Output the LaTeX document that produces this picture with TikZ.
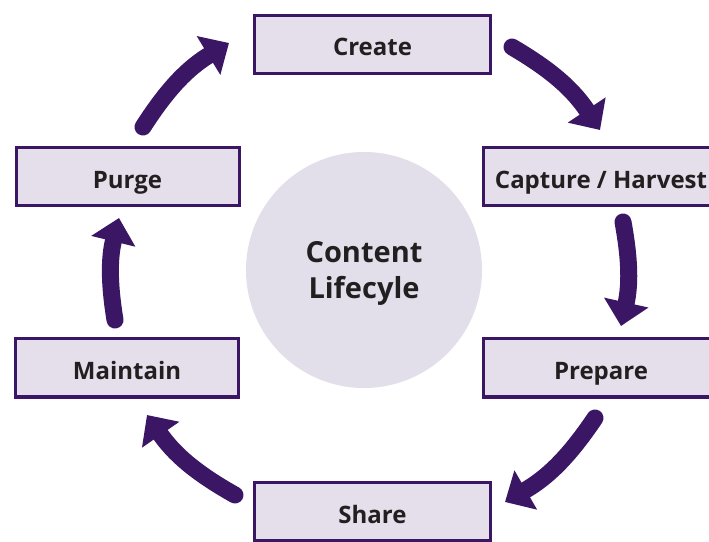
\documentclass[tikz,border=0pt]{standalone}
\usepackage{fontspec}
\setmainfont{Open Sans}
\usetikzlibrary{arrows.meta}
\definecolor{plum}{RGB}{59,22,100}
\definecolor{lilac}{RGB}{228,223,235}
\definecolor{hubfill}{RGB}{226,222,234}
\definecolor{ink}{RGB}{35,31,32}
\tikzset{
  stage/.style={draw=plum, line width=3pt, fill=lilac, text=ink,
    minimum height=58pt, inner sep=0pt, text height=23pt, text depth=0pt,
    font=\fontsize{24}{28}\selectfont\bfseries},
  hubnode/.style={circle, fill=hubfill, minimum size=236pt, inner sep=0pt},
  hubtext/.style={text=ink, align=center, inner sep=0pt,
    font=\fontsize{29}{36}\selectfont\bfseries},
  flow/.style={draw=plum, line width=17pt, line cap=round,
    -{Triangle[length=24pt,width=44pt]}},
}
\begin{document}
\begin{tikzpicture}[x=1pt,y=1pt]
  \useasboundingbox (0,0) rectangle (709,541);

  % lifecycle stages
  \node[stage, minimum width=236pt] (create)  at (372.5,496.5) {Create};
  \node[stage, minimum width=236pt] (capture) at (601,364)     {Capture / Harvest};
  \node[stage, minimum width=236pt] (prepare) at (601,173)     {Prepare};
  \node[stage, minimum width=236pt] (share)   at (372.5,29.5)  {Share};
  \node[stage, minimum width=223pt] (maintain) at (127,173)    {Maintain};
  \node[stage, minimum width=223pt] (purge)   at (127.5,364)   {Purge};

  % centre disc with its title
  \node[hubnode, label={[hubtext, yshift=-3pt]center:{Content\\Lifecyle}}]
    (hub) at (364,271) {};

  % arrow end points around the ring
  \coordinate (a1s) at (512,494); \coordinate (a1e) at (600,411);
  \coordinate (a2s) at (623,319); \coordinate (a2e) at (621,215);
  \coordinate (a3s) at (595,123); \coordinate (a3e) at (505,39);
  \coordinate (a4s) at (235,46);  \coordinate (a4e) at (147,126);
  \coordinate (a5s) at (115,221); \coordinate (a5e) at (119,323);
  \coordinate (a6s) at (143,414); \coordinate (a6e) at (229,498);

  % clockwise flow between stages
  \draw[flow] (a1s) to[bend left=13]   (a1e);
  \draw[flow] (a2s) to[bend left=11.5] (a2e);
  \draw[flow] (a3s) to[bend left=13]   (a3e);
  \draw[flow] (a4s) to[bend left=13]   (a4e);
  \draw[flow] (a5s) to[bend left=11.5] (a5e);
  \draw[flow] (a6s) to[bend left=13]   (a6e);
\end{tikzpicture}
\end{document}
